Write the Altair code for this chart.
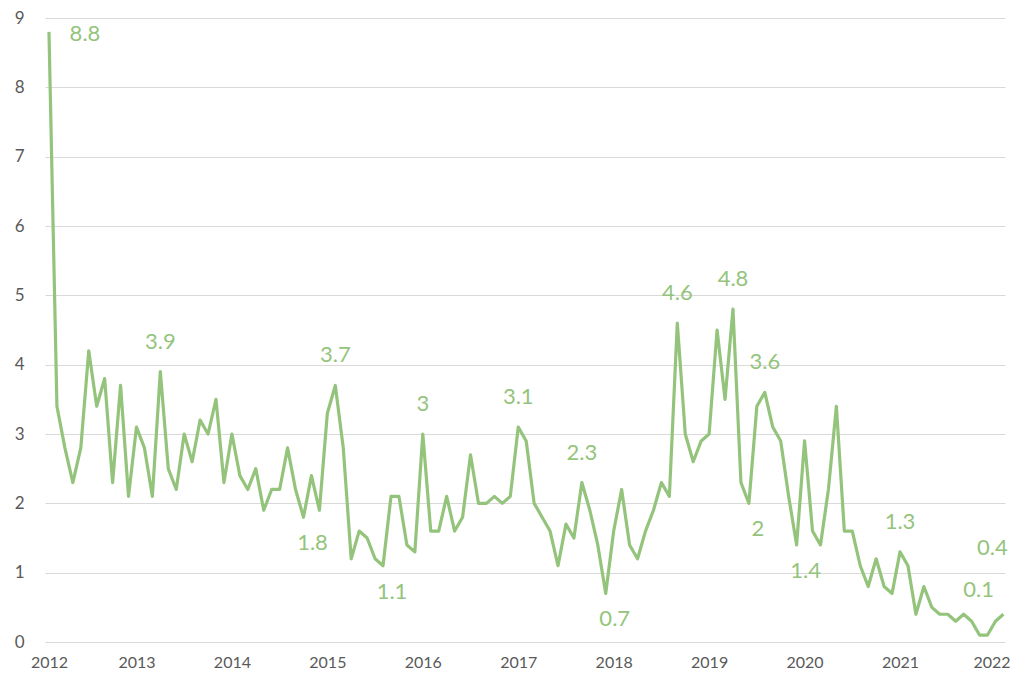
import altair as alt
import pandas as pd

# monthly values, Jan 2012 .. Jan 2022
v2012 = [8.8, 3.4, 2.8, 2.3, 2.8, 4.2, 3.4, 3.8, 2.3, 3.7, 2.1, 3.1]
v2013 = [2.8, 2.1, 3.9, 2.5, 2.2, 3.0, 2.6, 3.2, 3.0, 3.5, 2.3, 3.0]
v2014 = [2.4, 2.2, 2.5, 1.9, 2.2, 2.2, 2.8, 2.2, 1.8, 2.4, 1.9, 3.3]
v2015 = [3.7, 2.8, 1.2, 1.6, 1.5, 1.2, 1.1, 2.1, 2.1, 1.4, 1.3, 3.0]
v2016 = [1.6, 1.6, 2.1, 1.6, 1.8, 2.7, 2.0, 2.0, 2.1, 2.0, 2.1, 3.1]
v2017 = [2.9, 2.0, 1.8, 1.6, 1.1, 1.7, 1.5, 2.3, 1.9, 1.4, 0.7, 1.6]
v2018 = [2.2, 1.4, 1.2, 1.6, 1.9, 2.3, 2.1, 4.6, 3.0, 2.6, 2.9, 3.0]
v2019 = [4.5, 3.5, 4.8, 2.3, 2.0, 3.4, 3.6, 3.1, 2.9, 2.1, 1.4, 2.9]
v2020 = [1.6, 1.4, 2.2, 3.4, 1.6, 1.6, 1.1, 0.8, 1.2, 0.8, 0.7, 1.3]
v2021 = [1.1, 0.4, 0.8, 0.5, 0.4, 0.4, 0.3, 0.4, 0.3, 0.1, 0.1, 0.3]
v2022 = [0.4]

values = v2012 + v2013 + v2014 + v2015 + v2016 + v2017 + v2018 + v2019 + v2020 + v2021 + v2022

year_labels = ["2012", "2013", "2014", "2015", "2016", "2017",
               "2018", "2019", "2020", "2021", "2022"]

# labelled points (month index) and where the label sits
label_index = [0, 14, 32, 36, 42, 47, 59, 67, 70, 79, 86, 88, 90, 94, 107, 117, 120]
label_pos = ["right", "above", "below", "above", "below", "above", "above", "above",
             "below", "above", "above", "below", "above", "below", "above", "high", "higher"]

GREEN = "#94c47c"
GREY = "#595959"
FONT = "Lato"

df = pd.DataFrame({"m": list(range(len(values))), "v": values})
lab = pd.DataFrame({
    "m": label_index,
    "v": [values[i] for i in label_index],
    "t": [f"{values[i]:g}" for i in label_index],
    "pos": label_pos,
})

tick_vals = [0] + [12 * k - 1 for k in range(1, len(year_labels))]
expr = "''"
for tv, yl in reversed(list(zip(tick_vals, year_labels))):
    expr = f"datum.value == {tv} ? '{yl}' : ({expr})"

x = alt.X("m:Q",
          scale=alt.Scale(domain=[-0.5, 120.2], nice=False, zero=False),
          axis=alt.Axis(values=tick_vals, labelExpr=expr, grid=False, ticks=False,
                        domain=False, title=None, labelFontSize=16, labelColor=GREY,
                        labelFont=FONT, labelPadding=12, labelOverlap=False,
                        labelFlush=False,
                        labelOffset={"condition": {"test": f"datum.value == {tick_vals[-1]}",
                                                   "value": -4}, "value": 0}))
y = alt.Y("v:Q",
          scale=alt.Scale(domain=[0, 9], nice=False),
          axis=alt.Axis(values=list(range(10)), format="d", grid=True, gridColor="#d9d9d9",
                        gridWidth=1.2, ticks=False, domain=False, title=None,
                        labelFontSize=17, labelColor=GREY, labelFont=FONT,
                        labelPadding=21))

line = alt.Chart(df).mark_line(color=GREEN, strokeWidth=3.2, strokeJoin="round").encode(x=x, y=y)

def text_layer(pos, dx, dy):
    return (alt.Chart(lab)
            .transform_filter(alt.datum.pos == pos)
            .mark_text(font=FONT, fontSize=22, color=GREEN, dx=dx, dy=dy,
                       align="center", baseline="middle")
            .encode(x="m:Q", y="v:Q", text="t:N"))

chart = alt.layer(
    line,
    text_layer("above", 0, -30),
    text_layer("below", 9, 26),
    text_layer("right", 36, 2),
    text_layer("high", -1, -45),
    text_layer("higher", -11, -66),
).properties(
    width=960, height=624,
    autosize=alt.AutoSizeParams(type="none"),
    padding={"left": 37, "top": 10, "right": 5, "bottom": 30},
).configure_view(stroke=None)

chart.save("out.html", embed_options={"renderer": "svg", "actions": False})
